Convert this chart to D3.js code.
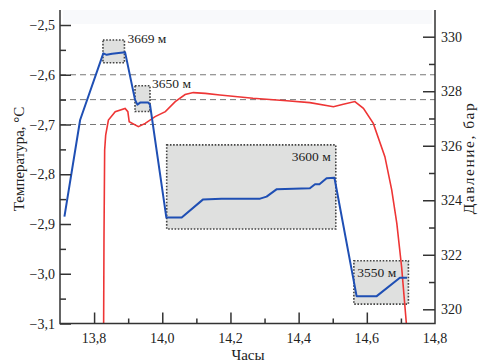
<!DOCTYPE html>
<html>
<head>
<meta charset="utf-8">
<script src="https://cdn.jsdelivr.net/npm/d3@7"></script>
<style>
  body { margin: 0; background: #fff; }
</style>
</head>
<body>
<div id="chart"></div>
<script>
// temperature (blue), hours / deg C
var tempHours = [13.713, 13.759, 13.827, 13.837, 13.853, 13.891, 13.920, 13.927, 13.935, 13.959, 13.964,
  14.012, 14.057, 14.119, 14.174, 14.287, 14.306, 14.336, 14.433, 14.448, 14.461, 14.482, 14.505,
  14.570, 14.629, 14.697, 14.718];
var tempValues = [-2.885, -2.691, -2.557, -2.560, -2.558, -2.555, -2.650, -2.660, -2.656, -2.656, -2.660,
  -2.887, -2.887, -2.851, -2.849, -2.849, -2.845, -2.830, -2.828, -2.820, -2.820, -2.808, -2.807,
  -3.045, -3.045, -3.008, -3.008];

// pressure (red), hours / bar
var presHours = [13.828, 13.829, 13.831, 13.834, 13.842, 13.862, 13.891, 13.899, 13.903, 13.930, 13.950,
  13.979, 14.009, 14.038, 14.067, 14.091, 14.126, 14.169, 14.266, 14.365, 14.433, 14.502, 14.531,
  14.565, 14.590, 14.619, 14.653, 14.673, 14.688, 14.702, 14.716];
var presValues = [319.48, 322.54, 325.84, 326.39, 326.94, 327.25, 327.37, 327.25, 326.88, 326.70, 326.82,
  327.07, 327.25, 327.62, 327.88, 327.95, 327.92, 327.86, 327.74, 327.65, 327.58, 327.43, 327.52,
  327.62, 327.37, 326.82, 325.60, 324.38, 323.15, 321.56, 319.48];

// depth boxes: label, hours from/to, temperature top/bottom
var boxLabels = ['3669 м', '3650 м', '3600 м', '3550 м'];
var boxH0 = [13.826, 13.920, 14.013, 14.562];
var boxH1 = [13.889, 13.964, 14.509, 14.722];
var boxT0 = [-2.530, -2.622, -2.741, -2.974];
var boxT1 = [-2.576, -2.674, -2.910, -3.061];

var refLines = [-2.6, -2.65, -2.7];
var xTicks = [13.8, 14.0, 14.2, 14.4, 14.6, 14.8];
var yTicks = [-2.5, -2.6, -2.7, -2.8, -2.9, -3.0, -3.1];
var pTicks = [320, 322, 324, 326, 328, 330];

var W = 483, H = 364;
// note: "top" is taken by window.top, so plot edges get their own names
var pLeft = 60, pRight = 435, pTop = 10, pBottom = 323.5;
var serif = '"Liberation Serif", "Times New Roman", serif';

var svg = d3.select('#chart').append('svg')
  .attr('width', W)
  .attr('height', H)
  .attr('font-family', serif);

var x = d3.scaleLinear().domain([13.7, 14.8]).range([pLeft, pRight]);
var y = d3.scaleLinear().domain([-3.1, -2.5]).range([pBottom, 25]);
var yP = d3.scaleLinear().domain([320, 330]).range([309.3, 36.7]);

var fmt = function(d, n) {
  return d3.format('.' + n + 'f')(d).replace('.', ',').replace('-', '\u2212');
};

// faint strip at the top
svg.append('rect')
  .attr('x', pLeft + 3).attr('y', pTop)
  .attr('width', pRight - pLeft - 6).attr('height', 14)
  .attr('fill', '#f8f9fb');

// dashed reference lines
svg.selectAll('.ref').data(refLines).enter().append('line')
  .attr('x1', pLeft).attr('x2', pRight)
  .attr('y1', function(d) { return y(d); })
  .attr('y2', function(d) { return y(d); })
  .attr('stroke', '#777')
  .attr('stroke-width', 1)
  .attr('stroke-dasharray', '6,4');

// grey boxes with dotted frame
svg.selectAll('.box').data(boxLabels).enter().append('rect')
  .attr('x', function(d, i) { return x(boxH0[i]); })
  .attr('y', function(d, i) { return y(boxT0[i]); })
  .attr('width', function(d, i) { return x(boxH1[i]) - x(boxH0[i]); })
  .attr('height', function(d, i) { return y(boxT1[i]) - y(boxT0[i]); })
  .attr('fill', '#dfe0df')
  .attr('stroke', '#444')
  .attr('stroke-width', 1.6)
  .attr('stroke-dasharray', '1.6,1.6');

// box labels
var labelPos = [
  { dx: 3, dy: 3, anchor: 'start', ref: 'right-top' },
  { dx: 2, dy: 2, anchor: 'start', ref: 'right-top' },
  { dx: -5, dy: 16, anchor: 'end', ref: 'right-top' },
  { dx: 3.5, dy: 16, anchor: 'start', ref: 'left-top' }
];
svg.selectAll('.blabel').data(boxLabels).enter().append('text')
  .attr('x', function(d, i) {
    var p = labelPos[i];
    return (p.ref === 'left-top' ? x(boxH0[i]) : x(boxH1[i])) + p.dx;
  })
  .attr('y', function(d, i) { return y(boxT0[i]) + labelPos[i].dy; })
  .attr('text-anchor', function(d, i) { return labelPos[i].anchor; })
  .attr('fill', '#222')
  .style('font-size', '13.5px')
  .text(function(d) { return d; });

svg.append('clipPath').attr('id', 'clip').append('rect')
  .attr('x', pLeft).attr('y', pTop).attr('width', pRight - pLeft).attr('height', pBottom - pTop);

// pressure line
var presData = presHours.map(function(h, i) { return [h, presValues[i]]; });
svg.append('path')
  .datum(presData)
  .attr('clip-path', 'url(#clip)')
  .attr('fill', 'none')
  .attr('stroke', '#ee3535')
  .attr('stroke-width', 1.6)
  .attr('d', d3.line()
    .x(function(d) { return x(d[0]); })
    .y(function(d) { return yP(d[1]); }));

// temperature line
var tempData = tempHours.map(function(h, i) { return [h, tempValues[i]]; });
svg.append('path')
  .datum(tempData)
  .attr('fill', 'none')
  .attr('stroke', '#1f4fb4')
  .attr('stroke-width', 2)
  .attr('stroke-linejoin', 'round')
  .attr('d', d3.line()
    .x(function(d) { return x(d[0]); })
    .y(function(d) { return y(d[1]); }));

// axes: ticks point inwards, majors longer
var axisColor = '#333';
var xAxis = svg.append('g')
  .attr('transform', 'translate(0,' + pBottom + ')')
  .call(d3.axisBottom(x).tickValues(d3.range(1, 11).map(function(i) { return 13.7 + i / 10; })).tickSize(0).tickFormat(''));
xAxis.select('.domain').remove();
xAxis.selectAll('.tick line')
  .attr('y2', function(d, i) { return i % 2 === 0 ? -11 : -5; })
  .attr('stroke', axisColor).attr('stroke-width', 1.5);

var yAxis = svg.append('g')
  .attr('transform', 'translate(' + pLeft + ',0)')
  .call(d3.axisLeft(y).tickValues(d3.range(0, 13).map(function(i) { return -3.1 + i * 0.05; })).tickSize(0).tickFormat(''));
yAxis.select('.domain').remove();
yAxis.selectAll('.tick line')
  .attr('x2', function(d, i) { return i % 2 === 0 ? 11 : 6; })
  .attr('stroke', axisColor).attr('stroke-width', 1.5);

var pAxis = svg.append('g')
  .attr('transform', 'translate(' + pRight + ',0)')
  .call(d3.axisRight(yP).tickValues(d3.range(320, 331, 1)).tickSize(0).tickFormat(''));
pAxis.select('.domain').remove();
pAxis.selectAll('.tick line')
  .attr('x2', function(d) { return d % 2 === 0 ? -12 : -6; })
  .attr('stroke', axisColor).attr('stroke-width', 1.5);

// frame lines (no top edge)
svg.append('path')
  .attr('d', 'M' + pLeft + ',' + pTop + 'V' + pBottom + 'H' + pRight + 'V' + pTop)
  .attr('fill', 'none')
  .attr('stroke', axisColor)
  .attr('stroke-width', 1.5);

// tick labels
svg.selectAll('.xl').data(xTicks).enter().append('text')
  .attr('x', function(d) { return x(d); })
  .attr('y', 343)
  .attr('text-anchor', 'middle')
  .attr('fill', '#222')
  .style('font-size', '14px')
  .text(function(d) { return fmt(d, 1); });

svg.selectAll('.yl').data(yTicks).enter().append('text')
  .attr('x', 55)
  .attr('y', function(d) { return y(d) + 5; })
  .attr('text-anchor', 'end')
  .attr('fill', '#222')
  .style('font-size', '14px')
  .text(function(d) { return fmt(d, 1); });

svg.selectAll('.pl').data(pTicks).enter().append('text')
  .attr('x', 441)
  .attr('y', function(d) { return yP(d) + 5; })
  .attr('fill', '#222')
  .style('font-size', '14px')
  .text(function(d) { return d; });

// axis titles
svg.append('text')
  .attr('x', 248).attr('y', 360)
  .attr('text-anchor', 'middle')
  .attr('fill', '#222')
  .style('font-size', '15px')
  .text('Часы');

svg.append('text')
  .attr('transform', 'translate(24,159) rotate(-90)')
  .attr('text-anchor', 'middle')
  .attr('fill', '#222')
  .style('font-size', '15px')
  .text('Температура, °C');

svg.append('text')
  .attr('transform', 'translate(474,158) rotate(-90)')
  .attr('text-anchor', 'middle')
  .attr('fill', '#222')
  .style('font-size', '15.5px')
  .style('letter-spacing', '1.5px')
  .text('Давление, бар');
</script>
</body>
</html>
